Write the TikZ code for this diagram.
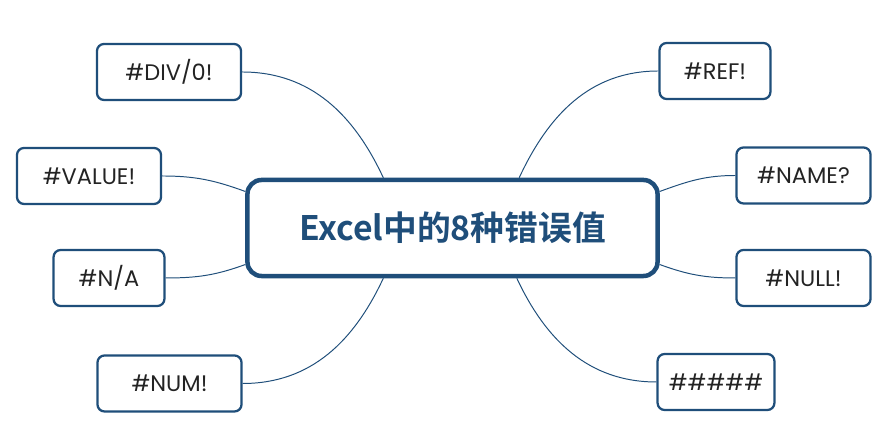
\documentclass[tikz,border=0pt]{standalone}
\usepackage{fontspec}
\setmainfont{Poppins}
\newfontfamily\cjkbold{Noto Sans CJK SC Bold}
\usepackage{xcolor}
\usepackage{tikz}
\usetikzlibrary{positioning}
\definecolor{primary}{RGB}{31, 78, 122}
\definecolor{ink}{RGB}{35, 35, 35}

\begin{document}
\begin{tikzpicture}[x=0.025cm, y=0.025cm,
  root/.style={draw=primary, line width=3.2pt, rounded corners=10pt, minimum width=10.25cm, minimum height=2.4cm, font=\cjkbold\fontsize{24}{28}\selectfont, text=primary},
  leaf/.style={draw=primary, line width=1.6pt, rounded corners=5pt, minimum height=1.4cm, font=\fontsize{16}{19}\selectfont, text=ink},
  link/.style={draw=primary, line width=0.7pt}]

  \useasboundingbox (0,0) rectangle (883,432);

  \node[root] (root) at (452.5,204) {Excel中的8种错误值};

  \node[leaf, minimum width=3.6cm] (div) at (169,360) {\#DIV/0!};
  \node[leaf, minimum width=3.6cm] (value) at (89,256) {\#VALUE!};
  \node[leaf, minimum width=2.77cm] (na) at (109,154) {\#N/A};
  \node[leaf, minimum width=3.6cm] (num) at (169.5,48.5) {\#NUM!};
  \node[leaf, minimum width=2.77cm] (ref) at (715,361) {\#REF!};
  \node[leaf, minimum width=3.35cm] (name) at (803.5,256.5) {\#NAME?};
  \node[leaf, minimum width=3.35cm] (null) at (803.5,154) {\#NULL!};
  \node[leaf, minimum width=2.92cm] (hash) at (716,50) {\#\#\#\#\#};

  \draw[link] (div.east) to[out=0, in=115] (root.144);
  \draw[link] (value.east) to[out=0, in=160] (root.170);
  \draw[link] (na.east) to[out=0, in=200] (root.190);
  \draw[link] (num.east) to[out=0, in=245] (root.216);
  \draw[link] (ref.west) to[out=180, in=65] (root.37);
  \draw[link] (name.west) to[out=180, in=20] (root.10);
  \draw[link] (null.west) to[out=180, in=340] (root.350);
  \draw[link] (hash.west) to[out=180, in=295] (root.322);
\end{tikzpicture}
\end{document}
